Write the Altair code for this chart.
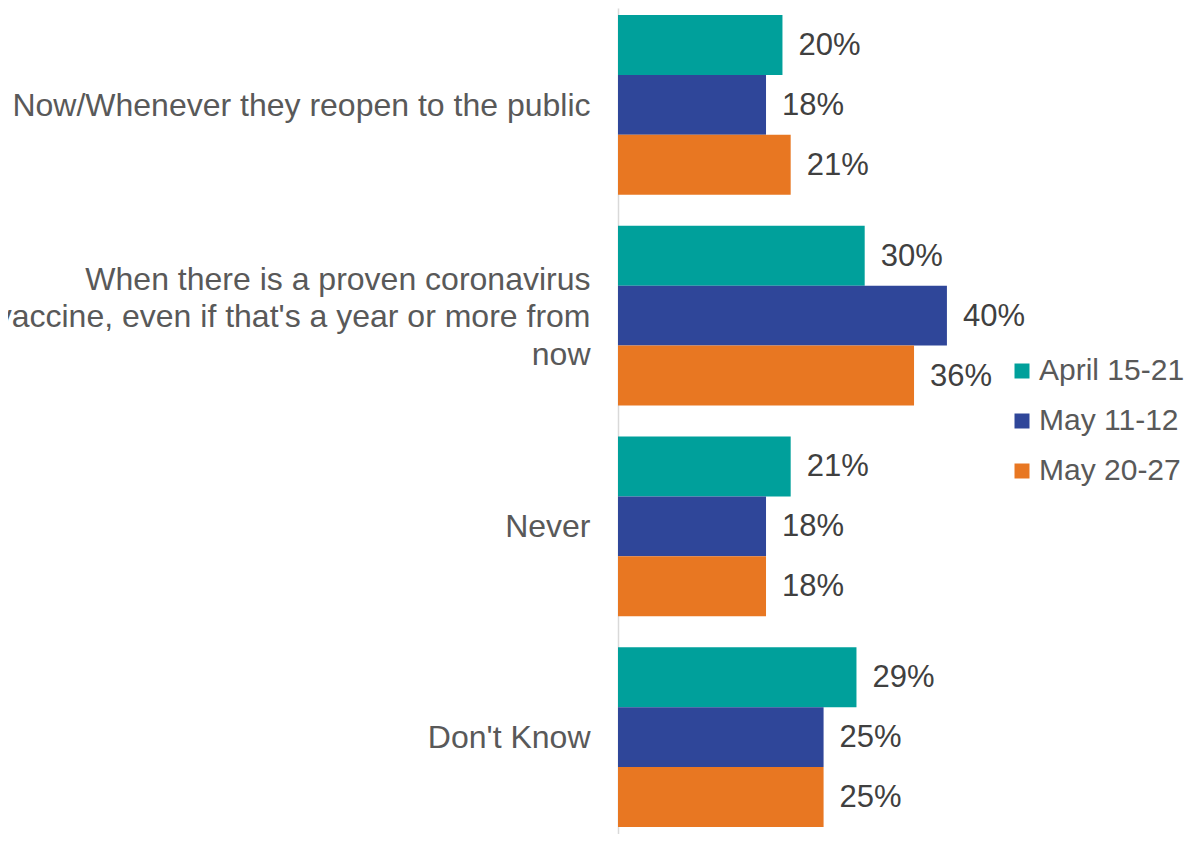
import altair as alt
import pandas as pd

categories = [
    "Now/Whenever they reopen to the public",
    "When there is a proven coronavirus|vaccine, even if that's a year or more from|now",
    "Never",
    "Don't Know",
]
series = ["April 15-21", "May 11-12", "May 20-27"]
april_15_21 = [20, 30, 21, 29]
may_11_12 = [18, 40, 18, 25]
may_20_27 = [21, 36, 18, 25]
colors = ["#00A09B", "#2F4699", "#E87722"]

rows = []
for s, vals in zip(series, [april_15_21, may_11_12, may_20_27]):
    for c, v in zip(categories, vals):
        rows.append({"category": c, "series": s, "value": v})
df = pd.DataFrame(rows)

FONT = "Liberation Sans"

y_enc = alt.Y(
    "category:N",
    sort=categories,
    scale=alt.Scale(paddingInner=0.147, paddingOuter=0.0332),
    axis=alt.Axis(
        title=None,
        labelExpr="split(datum.label, '|')",
        labelFontSize=32,
        labelFont=FONT,
        labelColor="#595959",
        labelPadding=28,
        labelLimit=0,
        labelLineHeight=37.5,
        labelOffset={"condition": {"test": "indexof(datum.label, '|') >= 0", "value": -36}, "value": 1},
        ticks=False,
        domain=True,
        domainColor="#d9d9d9",
        domainWidth=1.5,
        grid=False,
    ),
)
yoff = alt.YOffset("series:N", sort=series, scale=alt.Scale(paddingInner=0, paddingOuter=0))
x_enc = alt.X("value:Q", scale=alt.Scale(domain=[0, 68.1]), axis=None)

base = alt.Chart(df)

bars = base.mark_bar().encode(
    x=x_enc,
    y=y_enc,
    yOffset=yoff,
    color=alt.Color(
        "series:N",
        sort=series,
        scale=alt.Scale(domain=series, range=colors),
        legend=alt.Legend(
            title=None,
            orient="none",
            legendX=389,
            legendY=348,
            symbolType="square",
            symbolSize=225,
            symbolStrokeWidth=0,
            labelFontSize=30,
            labelFont=FONT,
            labelColor="#595959",
            labelOffset=2,
            rowPadding=20,
            labelLimit=0,
        ),
    ),
)

labels = base.mark_text(
    align="left", baseline="middle", dx=16, dy=1, fontSize=31, font=FONT, color="#404040"
).transform_calculate(label="datum.value + '%'").encode(
    x=x_enc,
    y=alt.Y("category:N", sort=categories),
    yOffset=yoff,
    text="label:N",
)

chart = (
    alt.layer(bars, labels)
    .properties(
        width=560,
        height=826,
        autosize=alt.AutoSizeParams(type="none"),
        padding={"left": 610, "top": 0, "right": 10, "bottom": 0},
    )
    .configure_view(stroke=None)
)

chart.save("out.html", embed_options={"renderer": "svg", "actions": False})
